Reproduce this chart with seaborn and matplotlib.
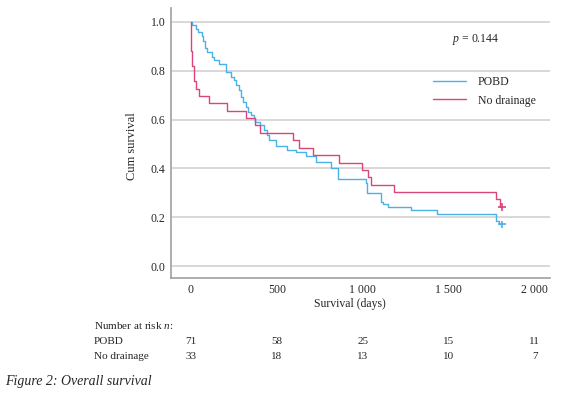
import pandas as pd
import seaborn as sns
import matplotlib.pyplot as plt
from matplotlib import transforms

# Curvas de Kaplan-Meier (dias, supervivencia acumulada)
pobd_t = [0, 6, 29, 42, 66, 70, 81, 97, 126, 135, 165, 203, 233, 252, 262, 281,
          291, 306, 320, 333, 349, 368, 372, 403, 426, 442, 455, 494, 558, 610,
          669, 727, 814, 855, 1017, 1027, 1105, 1115, 1144, 1279, 1434, 1777,
          1795, 1808]
pobd_s = [1.0, 0.986, 0.972, 0.958, 0.944, 0.92, 0.892, 0.878, 0.858, 0.844,
          0.827, 0.796, 0.776, 0.762, 0.742, 0.72, 0.694, 0.674, 0.653, 0.633,
          0.619, 0.605, 0.591, 0.578, 0.557, 0.537, 0.516, 0.492, 0.475, 0.466,
          0.451, 0.428, 0.40, 0.355, 0.339, 0.30, 0.264, 0.254, 0.24, 0.23,
          0.213, 0.186, 0.171, 0.171]

nodr_t = [0, 2, 8, 19, 33, 48, 106, 213, 320, 374, 401, 597, 630, 708, 862,
          998, 1031, 1047, 1182, 1777, 1800, 1808]
nodr_s = [1.0, 0.879, 0.818, 0.758, 0.727, 0.697, 0.667, 0.636, 0.606, 0.576,
          0.545, 0.515, 0.485, 0.455, 0.424, 0.394, 0.364, 0.333, 0.303, 0.273,
          0.243, 0.243]

groups = ['POBD', 'No drainage']
colores = {'POBD': '#4AB2E6', 'No drainage': '#D8467A'}

# Tabla de pacientes en riesgo
risk_times = [0, 500, 1000, 1500, 2000]
risk_pobd = [71, 58, 25, 15, 11]
risk_nodr = [33, 18, 13, 10, 7]

x_ticks = [0, 500, 1000, 1500, 2000]
x_labels = ['0', '500', '1 000', '1 500', '2 000']
y_ticks = [0.0, 0.2, 0.4, 0.6, 0.8, 1.0]

df = pd.concat([
    pd.DataFrame({'t': pobd_t, 's': pobd_s, 'grupo': 'POBD'}),
    pd.DataFrame({'t': nodr_t, 's': nodr_s, 'grupo': 'No drainage'}),
])

sns.set_style('white')
plt.rcParams['font.family'] = ['Liberation Serif', 'DejaVu Serif']
plt.rcParams['mathtext.fontset'] = 'custom'
plt.rcParams['mathtext.rm'] = 'Liberation Serif'
plt.rcParams['mathtext.it'] = 'Liberation Serif:italic'

fig = plt.figure(figsize=(5.65, 3.97), dpi=100)
ax = fig.add_axes([0.3027, 0.2997, 0.6708, 0.6801])

sns.lineplot(data=df, x='t', y='s', hue='grupo', hue_order=groups,
             palette=colores, drawstyle='steps-post', estimator=None,
             sort=False, linewidth=1.0, ax=ax, zorder=3)

# marcas de censura al final
fin = df.groupby('grupo').tail(1)
sns.scatterplot(data=fin, x='t', y='s', hue='grupo', hue_order=groups,
                palette=colores, marker='+', s=30, linewidth=1.2,
                legend=False, ax=ax, zorder=4)

ax.set_xlim(-115, 2089)
ax.set_ylim(-0.049, 1.057)
ax.set_xticks(x_ticks)
ax.set_xticklabels(x_labels)
ax.set_yticks(y_ticks)
ax.set_yticklabels([f'{v:.1f}' for v in y_ticks])
ax.tick_params(labelsize=8.5, length=0, pad=4)
ax.yaxis.grid(True, color='#D2D2D2', linewidth=1.2)
ax.xaxis.grid(False)
for lado in ['top', 'right']:
    ax.spines[lado].set_visible(False)
for lado in ['left', 'bottom']:
    ax.spines[lado].set_color('#A0A0A0')
    ax.spines[lado].set_linewidth(1.2)

ax.set_xlabel('Survival (days)', fontsize=8.5)
ax.set_ylabel('Cum survival', fontsize=9)
ax.xaxis.set_label_coords(0.472, -0.075)
ax.yaxis.set_label_coords(-0.088, 0.49)

ax.legend(loc='upper left', bbox_to_anchor=(0.676, 0.77), frameon=False,
          fontsize=8.5, handlelength=2.8, handletextpad=1.0, labelspacing=0.55,
          borderpad=0)

ax.text(1659, 0.926, '$p$ = 0.144', fontsize=8.5, ha='center', va='center')

# tabla de numero en riesgo
tr = transforms.blended_transform_factory(ax.transData, fig.transFigure)
fig.text(0.166, 0.179, 'Number at risk $n$:', fontsize=8, va='center')
fig.text(0.166, 0.141, 'POBD', fontsize=8, va='center')
fig.text(0.166, 0.103, 'No drainage', fontsize=8, va='center')
for t, a, b in zip(risk_times, risk_pobd, risk_nodr):
    ax.text(t, 0.141, str(a), transform=tr, fontsize=8, ha='center', va='center')
    ax.text(t, 0.103, str(b), transform=tr, fontsize=8, ha='center', va='center')

fig.text(0.009, 0.040, 'Figure 2: Overall survival', fontsize=10,
         style='italic', va='center')

fig.savefig('out.png', dpi=100)
